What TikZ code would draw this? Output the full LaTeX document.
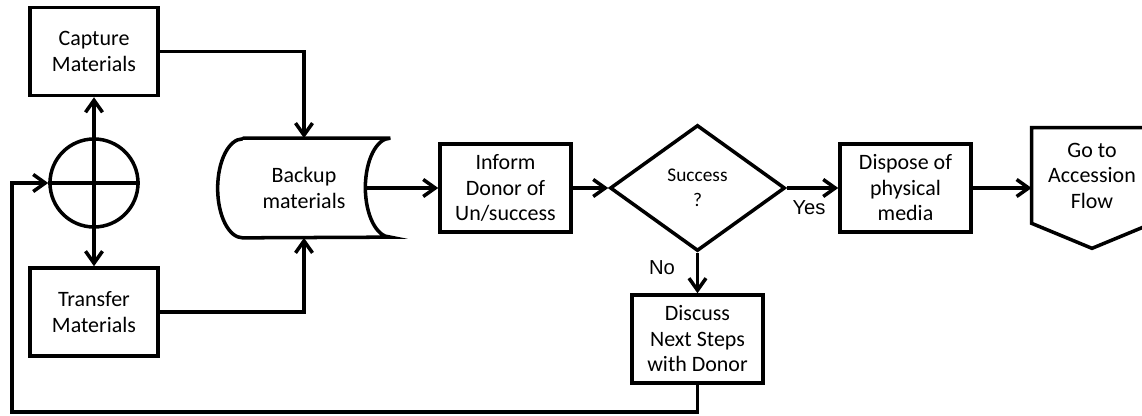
\documentclass[tikz,border=0pt]{standalone}
\usepackage{fontspec}
\setmainfont{Carlito}
\newfontfamily\answerfont{Liberation Sans}
\usetikzlibrary{arrows.meta,shapes.geometric}

\tikzset{
  procbox/.style={draw, line width=2pt, minimum width=2.62cm, minimum height=1.76cm,
    inner sep=0pt, align=center, font=\fontsize{12.5}{14.5}\selectfont},
  flow/.style={line width=2pt, ->},
  answer/.style={inner sep=0pt, font=\answerfont\fontsize{11.5}{13}\selectfont}
}

\begin{document}
\begin{tikzpicture}[>={Straight Barb[length=2.4mm,width=3.4mm]}]
\useasboundingbox (0,0) rectangle (22.84,8.32);
%\draw [very thin, gray] (0,0) grid (23,8);
\node [procbox, minimum width=2.56cm] (capture) at (1.88,7.29) {Capture\\Materials};
\node [procbox, minimum width=2.56cm] (transfer) at (1.88,2.08) {Transfer\\Materials};
\node [circle, draw, line width=2pt, minimum size=1.76cm, inner sep=0pt] (junction) at (1.88,4.66) {};
\node [minimum width=3.44cm, minimum height=1.98cm, inner sep=0pt, align=center,
  font=\fontsize{12.5}{14.5}\selectfont] (backup) at (6.08,4.56) {Backup\\materials};
\node [procbox] (inform) at (10.11,4.56) {Inform\\Donor of\\Un/success};
\node [diamond, draw, line width=2pt, minimum width=3.5cm, minimum height=2.52cm,
  inner sep=0pt, align=center, font=\fontsize{11}{14.5}\selectfont] (success) at (13.95,4.56) {Success\\?};
\node [procbox] (dispose) at (18.11,4.56) {Dispose of\\physical\\media};
\node [minimum width=2.4cm, minimum height=1.9cm, inner sep=0pt, align=center,
  font=\fontsize{12.5}{14.5}\selectfont] (goto) at (21.84,4.81) {Go to\\Accession\\Flow};
\node [procbox] (discuss) at (13.95,1.54) {Discuss\\Next Steps\\with Donor};
\node [answer] (yes) at (16.18,4.16) {Yes};
\node [answer] (no) at (13.24,2.96) {No};

% outlines of the two special shapes
\draw [line width=2pt] ([xshift=5mm]backup.north west) -- (backup.north east)
  arc [start angle=90, end angle=270, x radius=5mm, y radius=0.99cm]
  -- ([xshift=5mm]backup.south west)
  arc [start angle=270, end angle=90, x radius=5mm, y radius=0.99cm];
\draw [line width=2pt] (goto.south west) -- (goto.north west) -- (goto.north east)
  -- (goto.south east) -- ([yshift=-5mm]goto.south) -- cycle;
\draw [line width=2pt] (junction.west) -- (junction.east);

\draw [flow, <->] (capture.south) -- (transfer.north);
\draw [flow] (capture.east) -| (backup.north);
\draw [flow] (transfer.east) -| (backup.south);
\draw [flow] ([xshift=-5mm]backup.east) -- (inform.west);
\draw [flow] (inform.east) -- (success.west);
\draw [flow] (success.east) -- (dispose.west);
\draw [flow] (dispose.east) -- (dispose.east -| goto.west);
\draw [flow] (success.south) -- (discuss.north);
\coordinate (loopcorner) at (0.24,0.08);
\draw [flow] (discuss.south) |- (loopcorner) |- (junction.west);
\end{tikzpicture}
\end{document}
